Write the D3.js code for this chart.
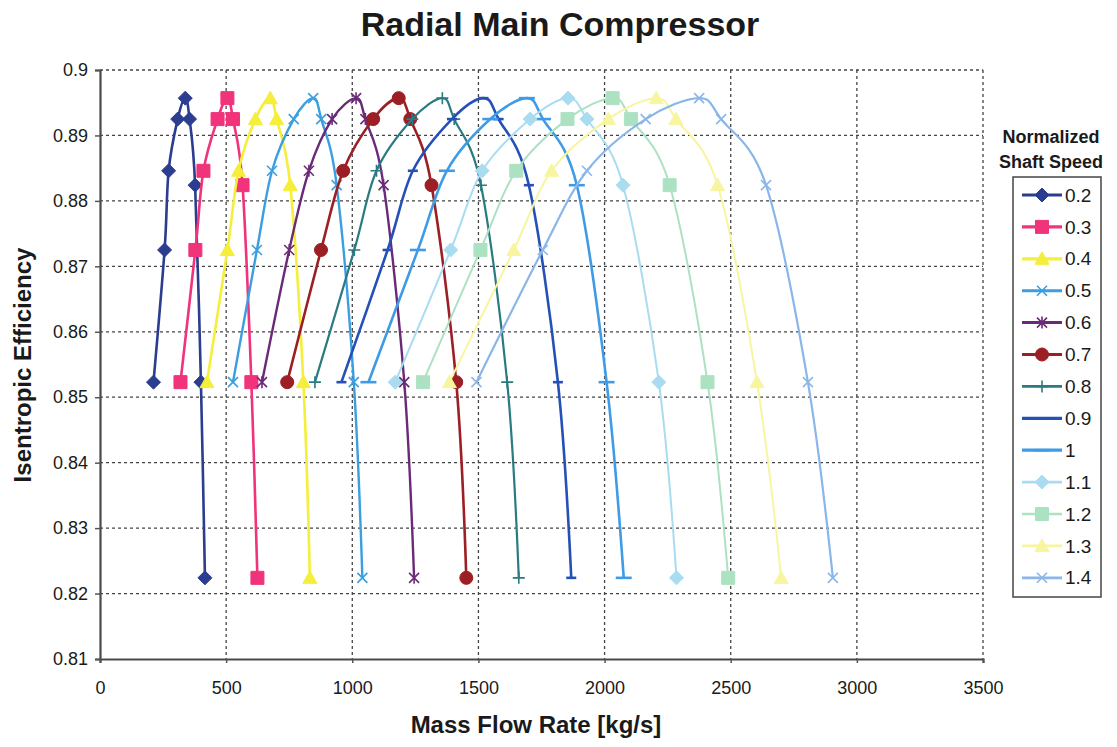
<!DOCTYPE html>
<html><head><meta charset="utf-8">
<script src="https://cdn.jsdelivr.net/npm/d3@7"></script>
<style>
body{margin:0;background:#fff;}
svg{display:block;font-family:"Liberation Sans",Arial,sans-serif;}
</style>
</head><body>
<svg id="c" width="1117" height="747"></svg>
<script>
// ---- data ----
const speeds = ["0.2","0.3","0.4","0.5","0.6","0.7","0.8","0.9","1","1.1","1.2","1.3","1.4"];
const efficiency = [0.8523, 0.8725, 0.8846, 0.8925, 0.8957, 0.8925, 0.8824, 0.8523, 0.8224];
const flow_0_2 = [212, 256, 272, 308, 338, 355, 377, 400, 416];
const flow_0_3 = [319, 378, 410, 466, 505, 527, 565, 600, 624];
const flow_0_4 = [424, 505, 549, 616, 675, 700, 754, 806, 832];
const flow_0_5 = [527, 622, 682, 768, 845, 877, 938, 1006, 1040];
const flow_0_6 = [642, 750, 828, 920, 1015, 1052, 1124, 1206, 1245];
const flow_0_7 = [742, 876, 964, 1083, 1184, 1230, 1314, 1412, 1452];
const flow_0_8 = [852, 1008, 1096, 1238, 1357, 1404, 1510, 1614, 1660];
const flow_0_9 = [957, 1140, 1240, 1395, 1520, 1580, 1700, 1815, 1868];
const flow_1_0 = [1064, 1260, 1375, 1547, 1692, 1756, 1890, 2008, 2076];
const flow_1_1 = [1170, 1390, 1515, 1705, 1855, 1930, 2073, 2215, 2285];
const flow_1_2 = [1280, 1508, 1650, 1853, 2032, 2105, 2258, 2408, 2490];
const flow_1_3 = [1385, 1640, 1790, 2015, 2205, 2283, 2448, 2604, 2700];
const flow_1_4 = [1492, 1755, 1930, 2163, 2375, 2462, 2640, 2806, 2905];
const flows = [flow_0_2, flow_0_3, flow_0_4, flow_0_5, flow_0_6, flow_0_7, flow_0_8,
               flow_0_9, flow_1_0, flow_1_1, flow_1_2, flow_1_3, flow_1_4];
const xTicks = [0, 500, 1000, 1500, 2000, 2500, 3000, 3500];
const yTicks = [0.81, 0.82, 0.83, 0.84, 0.85, 0.86, 0.87, 0.88, 0.89, 0.9];

// ---- styles ----
const colors = ["#2b3d8e","#f0337a","#f5ee3a","#3a9ee0","#6a2a78","#9b1f24","#2a7a82",
                "#2550b5","#3f9be6","#a9dcf0","#ace2c2","#f8f5a0","#8ab6ea"];
const markers = ["diamond","square","triangle","x","star","circle","plus","dash","longdash",
                 "diamond","square","triangle","x"];
const widths = [2.6,2.6,2.6,2.4,2.4,2.6,2.2,2.6,2.6,2.0,2.0,2.0,2.2];

const svg = d3.select("#c");
const x = d3.scaleLinear().domain([0, 3500]).range([100, 983]);
const y = d3.scaleLinear().domain([0.81, 0.9]).range([659, 70]);

// title
svg.append("text").attr("x", 560).attr("y", 36).attr("text-anchor","middle")
  .attr("font-size", 34).attr("font-weight","bold").attr("fill","#1a1a1a")
  .text("Radial Main Compressor");

// gridlines
const grid = svg.append("g");
grid.selectAll(".hg").data(yTicks.filter(d => d > 0.81)).join("line")
  .attr("x1", 100).attr("x2", 983).attr("y1", d => y(d)).attr("y2", d => y(d))
  .attr("stroke", "#444").attr("stroke-width", 1.3).attr("stroke-dasharray","3,3");
grid.selectAll(".vg").data(xTicks.filter(d => d > 0)).join("line")
  .attr("y1", 70).attr("y2", 659).attr("x1", d => x(d)).attr("x2", d => x(d))
  .attr("stroke", "#444").attr("stroke-width", 1.3).attr("stroke-dasharray","3,3");

// axes
const yAxis = svg.append("g").attr("transform","translate(100,0)")
  .call(d3.axisLeft(y).tickValues(yTicks).tickFormat(d => String(d)).tickSize(5).tickPadding(7));
const xAxis = svg.append("g").attr("transform","translate(0,659)")
  .call(d3.axisBottom(x).tickValues(xTicks).tickFormat(d => String(d)).tickSize(4).tickPadding(18));
[yAxis, xAxis].forEach(a => {
  a.select(".domain").attr("stroke","#4a4a4a").attr("stroke-width",2.2);
  a.selectAll(".tick line").attr("stroke","#555").attr("stroke-width",1.5);
  a.selectAll(".tick text").attr("font-size",18).attr("fill","#1a1a1a")
    .attr("font-family","'Liberation Sans',Arial,sans-serif");
});

// axis titles
svg.append("text").attr("x", 536).attr("y", 733).attr("text-anchor","middle")
  .attr("font-size", 24).attr("font-weight","bold").attr("fill","#1a1a1a")
  .text("Mass Flow Rate [kg/s]");
svg.append("text").attr("transform","translate(31,365) rotate(-90)").attr("text-anchor","middle")
  .attr("font-size", 24).attr("font-weight","bold").attr("fill","#1a1a1a")
  .text("Isentropic Efficiency");

// marker shapes
function markerPath(t) {
  switch (t) {
    case "diamond": return "M0,-7L7,0L0,7L-7,0Z";
    case "square": return "M-6.5,-6.5H6.5V6.5H-6.5Z";
    case "triangle": return "M0,-7L7,5.5H-7Z";
    case "x": return "M-5,-5L5,5M-5,5L5,-5";
    case "star": return "M-5,-5L5,5M-5,5L5,-5M0,-6V6";
    case "circle": return "M6.5,0A6.5,6.5 0 1,1 -6.5,0A6.5,6.5 0 1,1 6.5,0Z";
    case "plus": return "M-6,0H6M0,-6V6";
    case "dash": return "M-5,0H5";
    case "longdash": return "M-8,0H8";
  }
}
const filled = t => ["diamond","square","triangle","circle"].includes(t);
function drawMarker(g, t, c) {
  const p = g.append("path").attr("d", markerPath(t));
  if (filled(t)) p.attr("fill", c).attr("stroke", c).attr("stroke-width", 1);
  else p.attr("fill","none").attr("stroke", c).attr("stroke-width", (t==="dash"||t==="longdash") ? 2.6 : 1.6);
}

// series
const line = d3.line().x(d => x(d[0])).y(d => y(d[1])).curve(d3.curveCardinal.tension(0));
const plot = svg.append("g");
flows.forEach((f, i) => {
  const pts = f.map((v, k) => [v, efficiency[k]]);
  const g = plot.append("g");
  g.append("path").attr("d", line(pts)).attr("fill","none")
    .attr("stroke", colors[i]).attr("stroke-width", widths[i]).attr("stroke-linejoin","round");
  pts.forEach(p => {
    drawMarker(g.append("g").attr("transform", `translate(${x(p[0])},${y(p[1])})`), markers[i], colors[i]);
  });
});

// legend
svg.append("text").attr("x", 1051).attr("y", 143).attr("text-anchor","middle")
  .attr("font-size", 18).attr("font-weight","bold").attr("fill","#1a1a1a").text("Normalized");
svg.append("text").attr("x", 1051).attr("y", 168).attr("text-anchor","middle")
  .attr("font-size", 18).attr("font-weight","bold").attr("fill","#1a1a1a").text("Shaft Speed");
svg.append("rect").attr("x", 1013).attr("y", 177).attr("width", 88).attr("height", 420)
  .attr("fill","#fff").attr("stroke","#444").attr("stroke-width",1.5);
const leg = svg.append("g");
speeds.forEach((s, i) => {
  const yy = 195 + i * 31.9;
  const g = leg.append("g").attr("transform", `translate(0,${yy})`);
  g.append("line").attr("x1", 1022).attr("x2", 1062).attr("y1", 0).attr("y2", 0)
    .attr("stroke", colors[i]).attr("stroke-width", widths[i] + 0.6);
  drawMarker(g.append("g").attr("transform","translate(1042,0)"), markers[i], colors[i]);
  g.append("text").attr("x", 1065).attr("y", 0).attr("dy","0.35em")
    .attr("font-size", 19).attr("fill","#1a1a1a").text(s);
});
</script>
</body></html>
